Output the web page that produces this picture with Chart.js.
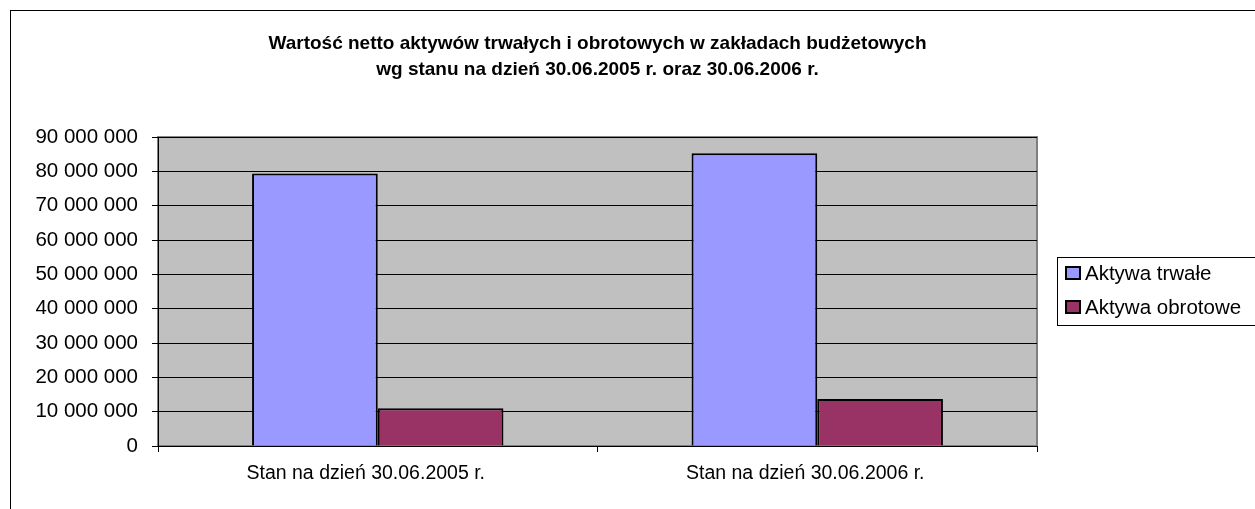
<!DOCTYPE html>
<html>
<head>
<meta charset="utf-8">
<script src="https://cdn.jsdelivr.net/npm/chart.js@4/dist/chart.umd.min.js"></script>
<style>
  html, body { margin: 0; padding: 0; background: #fff; }
  canvas { display: block; }
</style>
</head>
<body>
<canvas id="chart" width="1255" height="509"></canvas>
<script>
const categories = ['Stan na dzień 30.06.2005 r.', 'Stan na dzień 30.06.2006 r.'];
const seriesNames = ['Aktywa trwałe', 'Aktywa obrotowe'];
const aktywaTrwale = [79400000, 85300000];
const aktywaObrotowe = [11000000, 13700000];
const seriesColors = ['#9999FF', '#993366'];
const titleLines = [
  'Wartość netto aktywów trwałych i obrotowych w zakładach budżetowych',
  'wg stanu na dzień 30.06.2005 r. oraz 30.06.2006 r.'
];
const yMax = 90000000;
const yStep = 10000000;

const FONT = 'Arial, "Liberation Sans", sans-serif';

// spaces as thousands separator, like the original
function fmt(v) {
  return String(v).replace(/\B(?=(\d{3})+(?!\d))/g, ' ');
}

const frame = {
  id: 'frame',
  beforeDraw(chart) {
    const { ctx, chartArea: a } = chart;
    ctx.save();
    ctx.fillStyle = '#fff';
    ctx.fillRect(0, 0, chart.width, chart.height);
    // outer chart border (right/bottom run off the picture)
    ctx.strokeStyle = '#000';
    ctx.lineWidth = 1;
    ctx.strokeRect(10.5, 10.5, chart.width + 20, chart.height + 20);
    // plot area
    ctx.fillStyle = '#C0C0C0';
    ctx.fillRect(a.left, a.top, a.right - a.left, a.bottom - a.top);
    ctx.strokeStyle = '#808080';
    ctx.lineWidth = 2;
    ctx.strokeRect(a.left, a.top, a.right - a.left, a.bottom - a.top);
    ctx.restore();
  },
  afterDraw(chart) {
    const { ctx } = chart;
    const lx = 1057.5, ly = 257.5;
    ctx.save();
    ctx.strokeStyle = '#000';
    ctx.lineWidth = 1;
    ctx.strokeRect(lx, ly, 300, 68);
    ctx.font = '20.5px ' + FONT;
    ctx.textBaseline = 'middle';
    chart.data.datasets.forEach((ds, i) => {
      const cy = 273 + i * 34;
      ctx.fillStyle = ds.backgroundColor;
      ctx.fillRect(1066, cy - 6, 14, 12);
      ctx.lineWidth = 2;
      ctx.strokeRect(1066, cy - 6, 14, 12);
      ctx.fillStyle = '#000';
      ctx.fillText(ds.label, 1085, cy + 1);
    });
    ctx.restore();
  }
};

new Chart(document.getElementById('chart'), {
  type: 'bar',
  data: {
    labels: categories,
    datasets: [
      { label: seriesNames[0], data: aktywaTrwale, backgroundColor: seriesColors[0] },
      { label: seriesNames[1], data: aktywaObrotowe, backgroundColor: seriesColors[1] }
    ]
  },
  options: {
    responsive: false,
    animation: false,
    layout: { padding: { left: 0, right: 218, top: 0, bottom: 0 } },
    datasets: {
      bar: {
        categoryPercentage: 0.572,
        barPercentage: 1,
        borderColor: '#000',
        borderWidth: 2
      }
    },
    plugins: {
      legend: { display: false },
      tooltip: { enabled: false },
      title: {
        display: true,
        text: titleLines,
        fullSize: false,
        color: '#000',
        font: { family: FONT, size: 19, weight: 'bold', lineHeight: 1.37 },
        padding: { top: 31, bottom: 54 }
      }
    },
    scales: {
      x: {
        afterFit(scale) { scale.height = 63; },
        grid: { display: true, drawOnChartArea: false, drawTicks: true, tickLength: 6, color: '#000', offset: true },
        border: { display: true, color: '#000', width: 1 },
        ticks: { color: '#000', font: { family: FONT, size: 19.5 }, padding: 10, maxRotation: 0, labelOffset: -12 }
      },
      y: {
        min: 0,
        max: yMax,
        afterFit(scale) { scale.width = 158; },
        grid: { color: '#000', lineWidth: 1, tickLength: 6 },
        border: { display: true, color: '#000', width: 1 },
        ticks: {
          stepSize: yStep,
          color: '#000',
          padding: 14,
          font: { family: FONT, size: 20.5 },
          callback: v => fmt(v)
        }
      }
    }
  },
  plugins: [frame]
});
</script>
</body>
</html>
